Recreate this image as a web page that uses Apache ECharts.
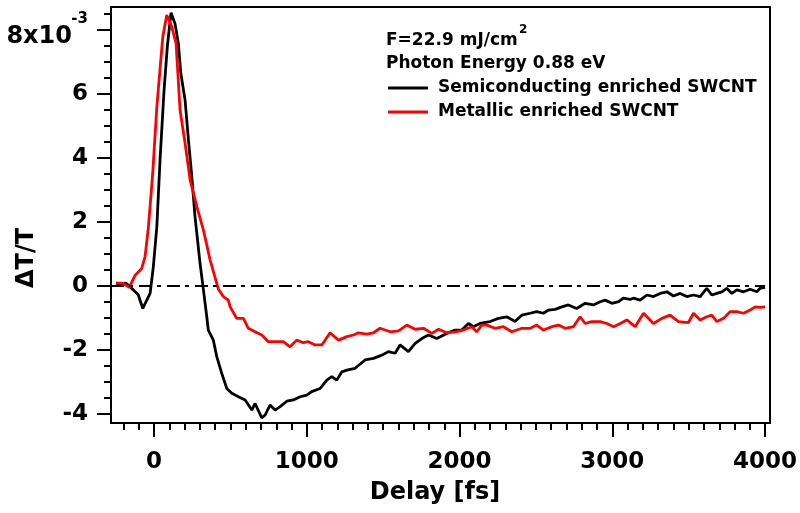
<!DOCTYPE html>
<html><head><meta charset="utf-8">
<script src="https://cdn.jsdelivr.net/npm/echarts@6/dist/echarts.min.js"></script>
<style>html,body{margin:0;padding:0;background:#fff}#c{width:800px;height:513px}</style>
</head><body><div id="c"></div>
<script>
// ΔT/T values are in units of 1e-3
const semiDelay = [-249,-183,-136,-103,-74,-26,-5,18,39,65,87,111,137,159,175,203,225,247,268,301,323,345,355,388,410,443,476,509,552,596,640,661,705,727,759,792,825,869,912,956,1000,1032,1087,1131,1163,1196,1229,1262,1316,1381,1436,1491,1534,1578,1610,1665,1709,1753,1796,1851,1916,1971,2014,2058,2090,2134,2200,2254,2309,2363,2407,2462,2505,2549,2582,2625,2669,2712,2767,2822,2876,2920,2953,2997,3041,3072,3116,3138,3182,3226,3269,3313,3357,3400,3444,3487,3531,3575,3618,3651,3684,3717,3749,3782,3815,3859,3902,3946,3967,4000];
const semiDT = [0.06,0.09,-0.12,-0.28,-0.70,-0.23,0.6,1.85,3.94,6.1,7.5,8.54,8.2,7.58,6.65,5.81,4.56,3.42,2.17,0.71,-0.12,-0.96,-1.375,-1.69,-2.2,-2.73,-3.2,-3.35,-3.46,-3.56,-3.875,-3.67,-4.12,-4.03,-3.72,-3.875,-3.77,-3.6,-3.56,-3.46,-3.41,-3.3,-3.2,-2.94,-2.83,-2.94,-2.68,-2.63,-2.57,-2.31,-2.26,-2.16,-2.05,-2.1,-1.84,-2.05,-1.79,-1.64,-1.53,-1.64,-1.48,-1.375,-1.375,-1.17,-1.27,-1.17,-1.11,-1.01,-0.96,-1.11,-0.91,-0.85,-0.8,-0.85,-0.75,-0.73,-0.65,-0.59,-0.7,-0.54,-0.59,-0.49,-0.44,-0.54,-0.49,-0.38,-0.42,-0.38,-0.44,-0.28,-0.33,-0.23,-0.18,-0.31,-0.23,-0.33,-0.28,-0.33,-0.07,-0.28,-0.23,-0.18,-0.07,-0.23,-0.12,-0.18,-0.1,-0.18,-0.07,-0.04];
const metDelay = [-249,-201,-162,-124,-81,-59,-37,-9,18,57,83,116,144,170,203,236,280,323,367,421,454,486,498,541,585,617,661,705,748,792,846,890,934,977,1010,1054,1098,1152,1207,1262,1305,1338,1392,1436,1479,1545,1600,1654,1709,1764,1818,1862,1916,1971,2025,2080,2112,2145,2178,2232,2287,2342,2407,2462,2505,2549,2604,2647,2691,2745,2789,2822,2865,2920,2964,3008,3051,3095,3149,3204,3269,3324,3378,3433,3498,3531,3575,3618,3651,3684,3728,3771,3815,3859,3902,3935,3967,4000];
const metDT = [0.1,0.08,-0.04,0.34,0.55,0.92,1.85,3.52,5.6,7.79,8.47,8.1,7.58,5.5,4.46,3.31,2.48,1.75,0.81,-0.1,-0.33,-0.44,-0.65,-1.01,-1.01,-1.32,-1.43,-1.53,-1.74,-1.74,-1.74,-1.9,-1.69,-1.77,-1.74,-1.84,-1.84,-1.46,-1.69,-1.58,-1.53,-1.46,-1.5,-1.46,-1.32,-1.43,-1.4,-1.22,-1.35,-1.32,-1.48,-1.35,-1.46,-1.43,-1.375,-1.27,-1.43,-1.22,-1.22,-1.32,-1.27,-1.43,-1.32,-1.32,-1.22,-1.375,-1.27,-1.22,-1.32,-1.27,-0.96,-1.17,-1.11,-1.11,-1.17,-1.27,-1.17,-1.06,-1.27,-0.85,-1.17,-1.01,-0.91,-1.11,-1.14,-0.85,-1.06,-0.96,-0.91,-1.11,-1.01,-0.8,-0.8,-0.85,-0.75,-0.65,-0.67,-0.65];
const xMajorTicks = [0,1000,2000,3000,4000];
const yMajorTicks = [-4,-2,0,2,4,6,8];
const seriesNames = ['Semiconducting enriched SWCNT','Metallic enriched SWCNT'];
const annotation1 = 'F=22.9 mJ/cm';
const annotation1Sup = '2';
const annotation2 = 'Photon Energy 0.88 eV';

const xMinorTicks = []; for (let v = -200; v <= 4000; v += 100) xMinorTicks.push(v);
const yMinorTicks = []; for (let v = -4; v <= 8.5; v += 0.5) yMinorTicks.push(v);

const FONT = '"DejaVu Sans", "Liberation Sans", Arial, sans-serif';
const X_MIN = -282, X_MAX = 4032, Y_MIN = -4.28, Y_MAX = 8.72;
const zip = (a, b) => a.map((v, i) => [v, b[i]]);

const chart = echarts.init(document.getElementById('c'), null, {renderer: 'canvas'});
const tickStyle = {color: '#000', width: 2};
chart.setOption({
  animation: false,
  backgroundColor: '#fff',
  grid: {left: 111, right: 30, top: 7, bottom: 90, show: true, borderColor: '#000', borderWidth: 2, outerBoundsMode: 'none', containLabel: false},
  legend: {
    orient: 'vertical', left: 388, top: 78, padding: 0, itemGap: 4,
    itemWidth: 40, itemHeight: 3, icon: 'rect',
    textStyle: {fontSize: 17, fontWeight: 'bold', fontFamily: FONT, color: '#000', lineHeight: 20, padding: [0, 0, 0, 5]},
    data: seriesNames
  },
  xAxis: [
    {type: 'value', min: X_MIN, max: X_MAX, position: 'bottom',
     axisLine: {onZero: false, lineStyle: tickStyle},
     axisTick: {customValues: xMajorTicks, length: 14, lineStyle: tickStyle},
     axisLabel: {customValues: xMajorTicks, margin: 28, fontSize: 23, fontWeight: 'bold', fontFamily: FONT, color: '#000', formatter: v => String(v)},
     splitLine: {show: false}},
    {type: 'value', min: X_MIN, max: X_MAX, position: 'bottom',
     axisLine: {show: false, onZero: false},
     axisTick: {customValues: xMinorTicks, length: 7, lineStyle: tickStyle},
     axisLabel: {show: false}, splitLine: {show: false}}
  ],
  yAxis: [
    {type: 'value', min: Y_MIN, max: Y_MAX, position: 'left',
     axisLine: {onZero: false, lineStyle: tickStyle},
     axisTick: {customValues: yMajorTicks, length: 14, lineStyle: tickStyle},
     axisLabel: {customValues: yMajorTicks, margin: 23, color: '#000', fontSize: 23, fontWeight: 'bold', fontFamily: FONT,
       formatter: v => v === 8 ? '{s|-3}\n{a|8x10}{g|}' : String(v),
       rich: {
         a: {fontSize: 24, fontWeight: 'bold', fontFamily: FONT, color: '#000', lineHeight: 22},
         s: {fontSize: 15, fontWeight: 'bold', fontFamily: FONT, color: '#000', lineHeight: 14},
         g: {width: 16, lineHeight: 22}
       }},
     splitLine: {show: false}},
    {type: 'value', min: Y_MIN, max: Y_MAX, position: 'left',
     axisLine: {show: false, onZero: false},
     axisTick: {customValues: yMinorTicks, length: 7, lineStyle: tickStyle},
     axisLabel: {show: false}, splitLine: {show: false}}
  ],
  graphic: [
    {type: 'text', x: 386, y: 41, z: 10, style: {text: annotation1, font: 'bold 17px ' + FONT, fill: '#000', verticalAlign: 'middle'}},
    {type: 'text', x: 519, y: 30, z: 10, style: {text: annotation1Sup, font: 'bold 12px ' + FONT, fill: '#000', verticalAlign: 'middle'}},
    {type: 'text', x: 386, y: 64, z: 10, style: {text: annotation2, font: 'bold 17px ' + FONT, fill: '#000', verticalAlign: 'middle'}},
    {type: 'text', x: 27, y: 258, rotation: Math.PI / 2, z: 10, style: {text: 'ΔT/T', font: 'bold 24px ' + FONT, fill: '#000', align: 'center', verticalAlign: 'middle'}},
    {type: 'text', x: 435, y: 493, z: 10, style: {text: 'Delay [fs]', font: 'bold 24px ' + FONT, fill: '#000', align: 'center', verticalAlign: 'middle'}}
  ],
  series: [
    {name: seriesNames[0], type: 'line', xAxisIndex: 0, yAxisIndex: 0, data: zip(semiDelay, semiDT),
     showSymbol: false, symbol: 'none', color: '#000', lineStyle: {color: '#000', width: 2.8},
     markLine: {silent: true, symbol: ['none', 'none'], label: {show: false},
       lineStyle: {color: '#000', width: 2, type: [13, 5, 4, 6]},
       data: [[{coord: [X_MIN, 0]}, {coord: [4000, 0]}]]}},
    {name: seriesNames[1], type: 'line', xAxisIndex: 0, yAxisIndex: 0, data: zip(metDelay, metDT),
     showSymbol: false, symbol: 'none', color: '#ff0000', lineStyle: {color: '#ff0000', width: 2.8}}
  ]
});
</script></body></html>
